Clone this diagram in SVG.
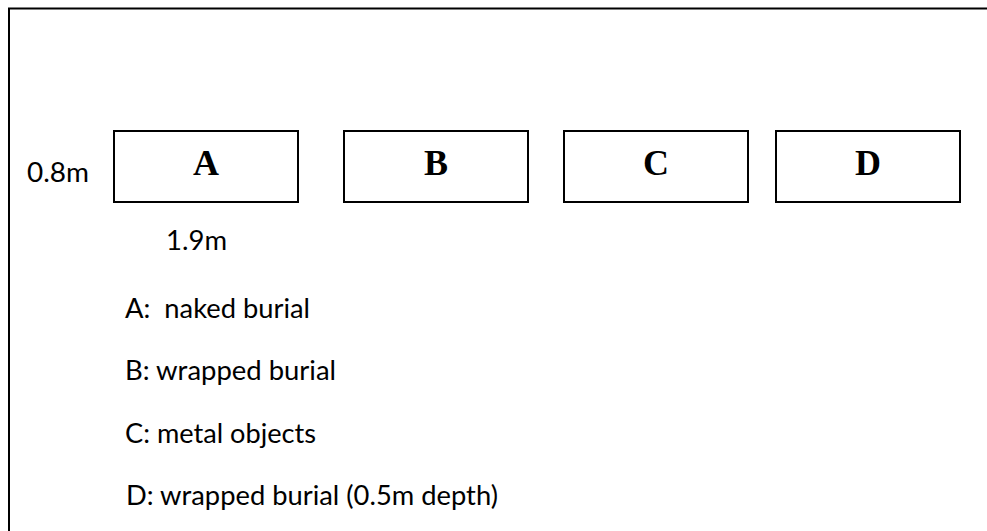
<svg xmlns="http://www.w3.org/2000/svg" width="987" height="531" viewBox="0 0 987 531">
  <style>
    .frame { fill: none; stroke: #000; stroke-width: 2; }
    .plot { fill: #fff; stroke: #000; stroke-width: 2; }
    .tag { font-family: "Liberation Serif", "Times New Roman", serif; font-weight: bold; font-size: 36px; fill: #000; text-anchor: middle; }
    .note { font-family: Lato, "Open Sans", "Liberation Sans", sans-serif; font-size: 26px; fill: #000; white-space: pre; }
  </style>
  <rect width="987" height="531" fill="#fff"/>

  <!-- page frame (open on the right and bottom edges) -->
  <path class="frame" d="M9,531 V8.5 H987"/>

  <!-- burial plots -->
  <g id="plot-a">
    <rect class="plot" x="114" y="131" width="184" height="71"/>
    <text class="tag" x="206" y="175">A</text>
  </g>
  <g id="plot-b">
    <rect class="plot" x="344" y="131" width="184" height="71"/>
    <text class="tag" x="436" y="175">B</text>
  </g>
  <g id="plot-c">
    <rect class="plot" x="564" y="131" width="184" height="71"/>
    <text class="tag" x="656" y="175">C</text>
  </g>
  <g id="plot-d">
    <rect class="plot" x="776" y="131" width="184" height="71"/>
    <text class="tag" x="868" y="175">D</text>
  </g>

  <!-- dimensions -->
  <g id="dimensions">
    <text class="note" x="27" y="182" textLength="62" lengthAdjust="spacingAndGlyphs">0.8m</text>
    <text class="note" x="166" y="250" textLength="61" lengthAdjust="spacingAndGlyphs">1.9m</text>
  </g>

  <!-- legend -->
  <g id="legend">
    <text class="note" x="125" y="318" textLength="185" lengthAdjust="spacingAndGlyphs">A:  naked burial</text>
    <text class="note" x="125" y="380" textLength="211" lengthAdjust="spacingAndGlyphs">B: wrapped burial</text>
    <text class="note" x="125" y="443" textLength="191" lengthAdjust="spacingAndGlyphs">C: metal objects</text>
    <text class="note" x="126" y="505" textLength="372" lengthAdjust="spacingAndGlyphs">D: wrapped burial (0.5m depth)</text>
  </g>
</svg>
